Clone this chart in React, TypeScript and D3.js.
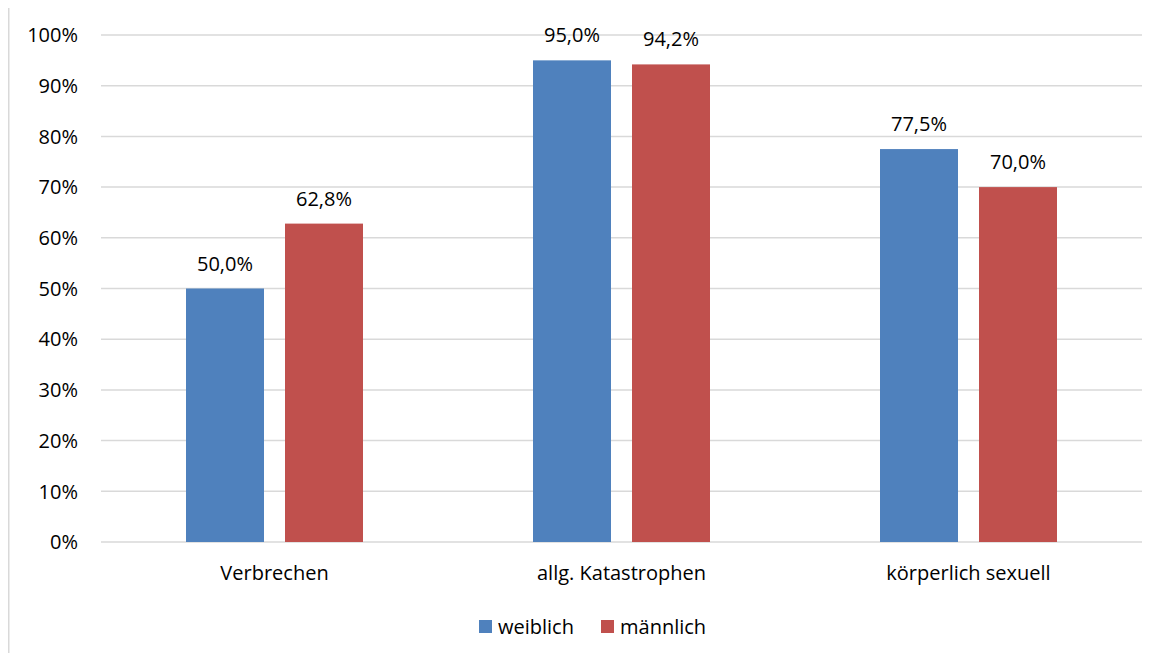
import React from "react";
import * as d3 from "d3";

const categories = ["Verbrechen", "allg. Katastrophen", "körperlich sexuell"];
const seriesNames = ["weiblich", "männlich"];
const weiblich = [50.0, 95.0, 77.5];
const maennlich = [62.8, 94.2, 70.0];
const yTicks = [0, 10, 20, 30, 40, 50, 60, 70, 80, 90, 100];
const colors = ["#4F81BD", "#C0504D"];

const W = 1169;
const H = 661;
const FONT = "'Open Sans', 'Noto Sans', sans-serif";
const FS = 20;

export default function App() {
  const left = 101;
  const right = 1142;
  const top = 35;
  const bottom = 542;
  const y = d3.scaleLinear().domain([0, 100]).range([bottom, top]);
  const x0 = d3.scaleBand<string>().domain(categories).range([left, right]).paddingInner(0).paddingOuter(0);
  const barW = 78;
  const gap = 21;
  const series = [weiblich, maennlich];
  const fmt = (v: number) => v.toFixed(1).replace(".", ",") + "%";

  return (
    <div style={{ margin: -8 }}>
      <svg width={W} height={H} style={{ display: "block" }}>
        <rect x={0} y={0} width={W} height={H} fill="#fff" />
        <line x1={8.5} x2={8.5} y1={5} y2={H} stroke="#d9d9d9" strokeWidth={2} />
        <line x1={8} x2={W} y1={5.5} y2={5.5} stroke="#d9d9d9" strokeWidth={2} />
        {yTicks.map((t) => (
          <g key={t}>
            <line x1={left} x2={right} y1={y(t)} y2={y(t)} stroke="#d9d9d9" strokeWidth={1.5} />
            <text x={78} y={y(t)} dy="0.36em" textAnchor="end" fontFamily={FONT} fontSize={FS} fill="#000">
              {t}%
            </text>
          </g>
        ))}
        {categories.map((c, i) => {
          const cx = (x0(c) as number) + x0.bandwidth() / 2;
          const groupW = barW * 2 + gap;
          return (
            <g key={c}>
              {series.map((s, j) => {
                const bx = cx - groupW / 2 + j * (barW + gap);
                return (
                  <g key={j}>
                    <rect x={bx} y={y(s[i])} width={barW} height={bottom - y(s[i])} fill={colors[j]} />
                    <text x={bx + barW / 2} y={y(s[i]) - 18} textAnchor="middle" fontFamily={FONT} fontSize={FS} fill="#000">
                      {fmt(s[i])}
                    </text>
                  </g>
                );
              })}
              <text x={cx} y={580} textAnchor="middle" fontFamily={FONT} fontSize={FS} fill="#000">
                {c}
              </text>
            </g>
          );
        })}
        <g>
          {seriesNames.map((n, j) => {
            const lx = j === 0 ? 479 : 601;
            return (
              <g key={n}>
                <rect x={lx} y={620} width={13} height={13} fill={colors[j]} />
                <text x={lx + 19} y={634} fontFamily={FONT} fontSize={FS} fill="#000">
                  {n}
                </text>
              </g>
            );
          })}
        </g>
      </svg>
    </div>
  );
}
